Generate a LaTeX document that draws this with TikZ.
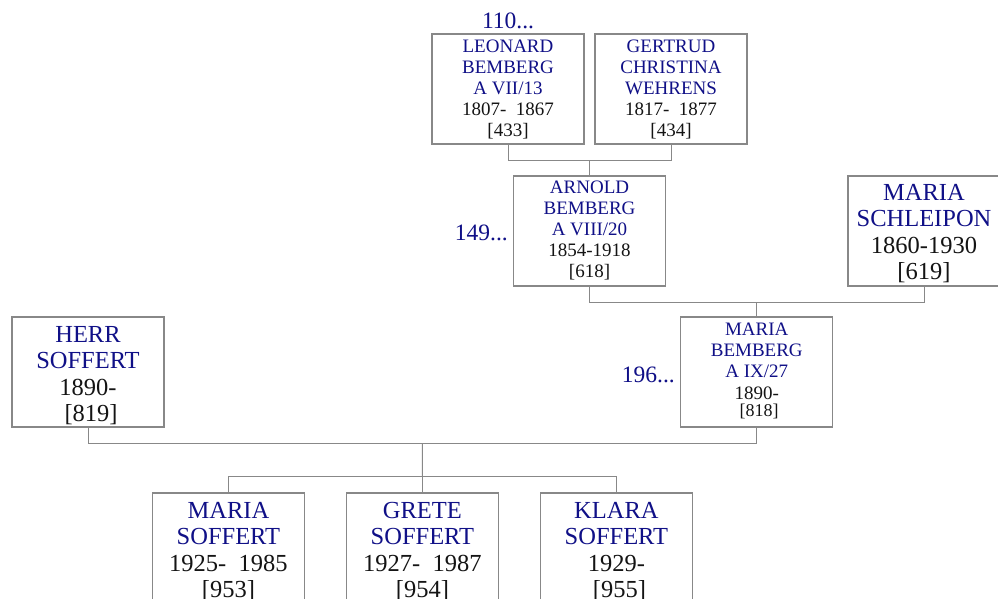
\documentclass[tikz,border=0pt]{standalone}
\usepackage{fontspec}
\setmainfont{Liberation Serif}
\usetikzlibrary{calc}
\definecolor{namec}{RGB}{16,16,135}
\definecolor{linec}{RGB}{136,136,136}
\definecolor{boxc}{RGB}{136,136,136}
\definecolor{datec}{RGB}{20,20,20}
\newcommand\nm[1]{\textcolor{namec}{#1}}
\begin{document}
\begin{tikzpicture}[x=1pt,y=-1pt,
  person/.style={draw=boxc,line width=1.3pt,minimum width=152pt,minimum height=110pt,inner sep=0pt,fill=white},
  conn/.style={draw=linec,line width=1pt},
  smalltxt/.style={align=center,inner sep=0pt,anchor=north,text=datec,font=\fontsize{19}{21}\selectfont},
  bigtxt/.style={align=center,inner sep=0pt,anchor=north,text=datec,font=\fontsize{24.5}{26.5}\selectfont},
  refno/.style={inner sep=0pt,text=namec,font=\fontsize{23.5}{26}\selectfont}]
\clip (0,0) rectangle (998,599);
\fill[white] (0,0) rectangle (998,599);

% boxes
\node[person] (leo) at (508,89) {};
\node[person] (ger) at (671,89) {};
\node[person] (arn) at (589.5,231) {};
\node[person] (sch) at (924,231) {};
\node[person] (mb) at (756.75,372) {};
\node[person] (herr) at (88,372) {};
\node[person] (c1) at (228.4,548) {};
\node[person] (c2) at (422.4,548) {};
\node[person] (c3) at (616.4,548) {};

% texts
\node[smalltxt] (leoT) at (508,39.4) {\nm{LEONARD}\\\nm{BEMBERG}\\\nm{A VII/13}\\1807-~~1867\\{}[433]};
\node[smalltxt] (gerT) at (671,39.4) {\nm{GERTRUD}\\\nm{CHRISTINA}\\\nm{WEHRENS}\\1817-~~1877\\{}[434]};
\node[smalltxt] (arnT) at (589.5,180.4) {\nm{ARNOLD}\\\nm{BEMBERG}\\\nm{A VIII/20}\\1854-1918\\{}[618]};
\node[bigtxt] (schT) at (924,183.8) {\nm{MARIA}\\\nm{SCHLEIPON}\\1860-1930\\{}[619]};
\node[smalltxt] (mbT) at (756.75,322.4) {\nm{MARIA}\\\nm{BEMBERG}\\\nm{A IX/27}\\[1pt]{\fontsize{19}{17}\selectfont 1890-}\\[-4pt]{\fontsize{18}{17}\selectfont ~[818]}};
\node[bigtxt] (herrT) at (88,325.8) {\nm{HERR}\\\nm{SOFFERT}\\1890-\\~[819]};
\node[bigtxt] (c1T) at (228.4,501.8) {\nm{MARIA}\\\nm{SOFFERT}\\1925-~~1985\\{}[953]};
\node[bigtxt] (c2T) at (422.4,501.8) {\nm{GRETE}\\\nm{SOFFERT}\\1927-~~1987\\{}[954]};
\node[bigtxt] (c3T) at (616.4,501.8) {\nm{KLARA}\\\nm{SOFFERT}\\1929-\\~[955]};

% reference numbers
\node[refno,anchor=base] (r110) at (508,29) {110...};
\node[refno,anchor=base east] (r149) at (508,240) {149...};
\node[refno,anchor=base east] (r196) at (675,382) {196...};

% connectors
\coordinate (j1) at ($(leo.south)!0.5!(ger.south)+(0,16)$);
\draw[conn] (leo.south) |- (j1) -| (ger.south);
\draw[conn] (j1) -- (arn.north);
\coordinate (j2) at ($(arn.south)!0.5!(sch.south)+(0,15.5)$);
\draw[conn] (arn.south) |- (j2) -| (sch.south);
\draw[conn] (j2) -- (mb.north);
\coordinate (j3) at ($(herr.south)!0.5!(mb.south)+(0,16)$);
\draw[conn] (herr.south) |- (j3) -| (mb.south);
\coordinate (j4) at ($(c2.north)+(0,-16)$);
\draw[conn] (j3) -- (j4);
\draw[conn] (c1.north) |- (j4) -| (c3.north);
\draw[conn] (j4) -- (c2.north);
\end{tikzpicture}
\end{document}
